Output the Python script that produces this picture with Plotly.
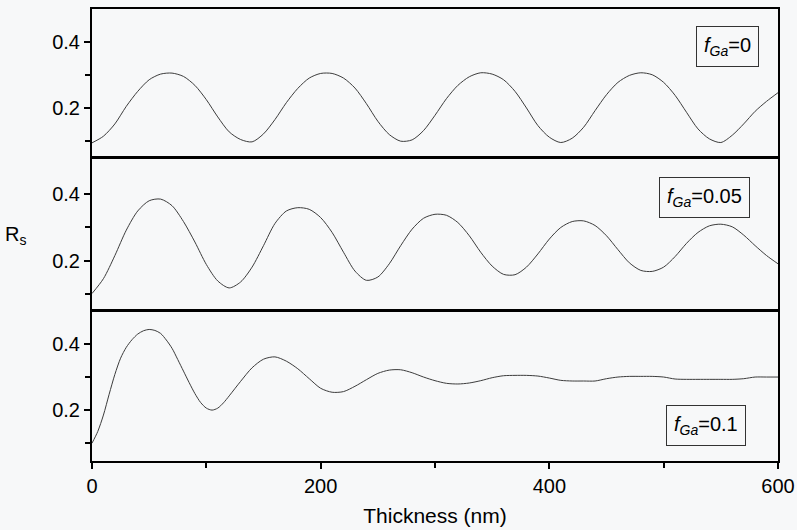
import plotly.graph_objects as go

# Reflectance R_s versus film thickness for three Ga fractions
thick_a = [0, 10, 20, 30, 40, 50, 60, 70, 80, 90, 100, 110, 120, 130, 140, 150, 160, 170, 180, 190,
           200, 210, 220, 230, 240, 250, 260, 270, 280, 290, 300, 310, 320, 330, 340, 350, 360, 370, 380, 390,
           400, 410, 420, 430, 440, 450, 460, 470, 480, 490, 500, 510, 520, 530, 540, 550, 560, 570, 580, 590, 600]
rs_f000 = [0.095, 0.115, 0.152, 0.205, 0.250, 0.285, 0.302, 0.305, 0.295, 0.268, 0.225, 0.173, 0.128, 0.105, 0.098,
           0.122, 0.165, 0.216, 0.259, 0.290, 0.304, 0.304, 0.290, 0.260, 0.213, 0.160, 0.120, 0.100, 0.104, 0.132,
           0.178, 0.228, 0.268, 0.294, 0.306, 0.302, 0.285, 0.250, 0.200, 0.147, 0.112, 0.096, 0.109, 0.142, 0.192,
           0.240, 0.277, 0.298, 0.306, 0.300, 0.277, 0.238, 0.187, 0.137, 0.107, 0.096, 0.118, 0.152, 0.190, 0.220, 0.246]
rs_f005 = [0.100, 0.145, 0.215, 0.292, 0.350, 0.381, 0.386, 0.366, 0.318, 0.256, 0.188, 0.138, 0.117, 0.135, 0.180,
           0.245, 0.312, 0.350, 0.360, 0.355, 0.330, 0.285, 0.225, 0.168, 0.140, 0.150, 0.190, 0.245, 0.295, 0.328,
           0.340, 0.337, 0.315, 0.275, 0.225, 0.183, 0.158, 0.157, 0.180, 0.220, 0.265, 0.300, 0.318, 0.320, 0.306,
           0.275, 0.233, 0.193, 0.170, 0.167, 0.180, 0.212, 0.252, 0.285, 0.305, 0.310, 0.302, 0.277, 0.245, 0.215, 0.190]

thick_b = [0, 5, 10, 15, 20, 25, 30, 35, 40, 45, 50, 55, 60, 65, 70, 75, 80, 85, 90, 95, 100, 105, 110, 115,
           120, 130, 140, 150, 160, 170, 180, 190, 200, 210, 220, 230, 240, 250, 260, 270, 280, 290, 300, 310,
           320, 330, 340, 350, 360, 370, 380, 390, 400, 410, 420, 430, 440, 450, 460, 470, 480, 490, 500, 510,
           520, 530, 540, 550, 560, 570, 580, 590, 600]
rs_f010 = [0.100, 0.135, 0.185, 0.248, 0.308, 0.357, 0.390, 0.413, 0.430, 0.440, 0.444, 0.441, 0.432, 0.412, 0.387,
           0.353, 0.318, 0.283, 0.250, 0.223, 0.206, 0.200, 0.206, 0.222, 0.243, 0.287, 0.328, 0.354, 0.361, 0.348,
           0.325, 0.295, 0.266, 0.254, 0.256, 0.272, 0.292, 0.311, 0.321, 0.322, 0.313, 0.300, 0.289, 0.281, 0.279,
           0.282, 0.289, 0.298, 0.304, 0.305, 0.305, 0.303, 0.297, 0.290, 0.288, 0.288, 0.288, 0.295, 0.300, 0.302,
           0.302, 0.302, 0.300, 0.294, 0.293, 0.293, 0.293, 0.293, 0.293, 0.295, 0.300, 0.300, 0.300]

panel_labels = ["<i>f</i><sub><i>Ga</i></sub>=0",
                "<i>f</i><sub><i>Ga</i></sub>=0.05",
                "<i>f</i><sub><i>Ga</i></sub>=0.1"]

BG = "#f7f8f9"
LINE = "#3c3c3c"
FONT = "Liberation Sans, Arial, sans-serif"

fig = go.Figure()
curve = dict(color=LINE, width=1, shape="spline", smoothing=0.8)
fig.add_trace(go.Scatter(x=thick_b, y=rs_f010, mode="lines", line=curve,
                         xaxis="x", yaxis="y", showlegend=False))
fig.add_trace(go.Scatter(x=thick_a, y=rs_f005, mode="lines", line=curve,
                         xaxis="x2", yaxis="y2", showlegend=False))
fig.add_trace(go.Scatter(x=thick_a, y=rs_f000, mode="lines", line=curve,
                         xaxis="x3", yaxis="y3", showlegend=False))

frame = dict(showline=True, linecolor="black", linewidth=2, mirror=True,
             showgrid=False, zeroline=False, automargin=False)
yticks = dict(tickvals=[0.2, 0.4], ticktext=["0.2", "0.4"], ticks="outside", ticklen=6,
              tickwidth=1.5, tickcolor="black",
              minor=dict(tickvals=[0.1, 0.3], ticks="outside", ticklen=5, tickwidth=1.5,
                         tickcolor="black"),
              tickfont=dict(family=FONT, size=20, color="black"))

fig.update_layout(
    width=797, height=530,
    margin=dict(l=92, r=19, t=9, b=69, autoexpand=False),
    paper_bgcolor=BG, plot_bgcolor=BG,
    font=dict(family=FONT, color="black"),
    xaxis=dict(domain=[0, 1], anchor="y", range=[0, 600], tickvals=[0, 200, 400, 600],
               ticks="outside", ticklen=6, tickwidth=1.5, tickcolor="black",
               minor=dict(tickvals=[100, 300, 500], ticks="outside", ticklen=5, tickwidth=1.5,
                          tickcolor="black"),
               tickfont=dict(family=FONT, size=20, color="black"),
               title=dict(text="Thickness (nm)", font=dict(family=FONT, size=21, color="black"),
                          standoff=12),
               **frame),
    xaxis2=dict(domain=[0, 1], anchor="y2", range=[0, 600], showticklabels=False, ticks="", **frame),
    xaxis3=dict(domain=[0, 1], anchor="y3", range=[0, 600], showticklabels=False, ticks="", **frame),
    xaxis4=dict(overlaying="x3", anchor="y3", side="top", range=[0, 600], tickvals=[200, 400],
                ticks="inside", ticklen=6, tickwidth=1.5, tickcolor="black",
                showticklabels=False, showline=False, showgrid=False, zeroline=False,
                automargin=False),
    yaxis=dict(domain=[0, 0.332], anchor="x", range=[0.046, 0.5], **yticks, **frame),
    yaxis2=dict(domain=[0.334, 0.670], anchor="x2", range=[0.05, 0.51], **yticks, **frame),
    yaxis3=dict(domain=[0.673, 1.0], anchor="x3", range=[0.053, 0.498], **yticks, **frame),
)

# Panel labels in bordered boxes
label_pos = [(0.9257, 0.917), (0.8929, 0.584), (0.895, 0.0785)]
for text, (px, py) in zip(panel_labels, label_pos):
    fig.add_annotation(text=text, xref="paper", yref="paper", x=px, y=py,
                       xanchor="center", yanchor="middle", showarrow=False,
                       font=dict(family=FONT, size=20, color="black"),
                       bordercolor="#333333", borderwidth=1, borderpad=7, bgcolor=BG)

# Shared y-axis title
fig.add_annotation(text="R<sub>s</sub>", xref="paper", yref="paper", x=-0.112, y=0.5,
                   xanchor="center", yanchor="middle", showarrow=False,
                   font=dict(family=FONT, size=20, color="black"))

fig.write_html("out.html")
